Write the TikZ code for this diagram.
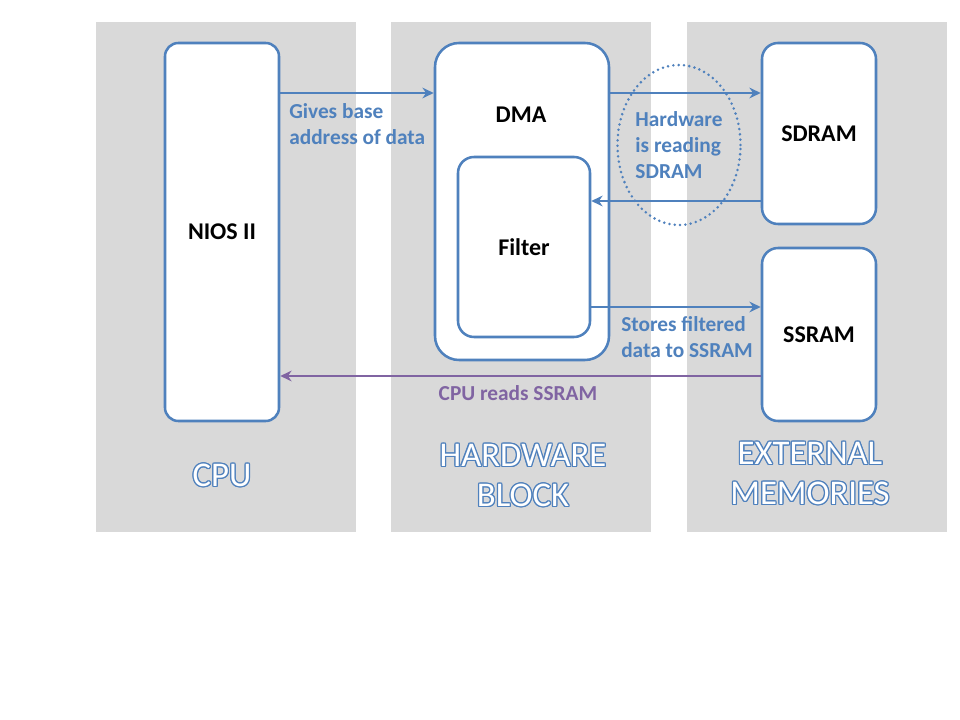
\documentclass[tikz,border=0pt]{standalone}
\usepackage{fontspec}
\setmainfont{Carlito}
\usepackage{contour}
\usetikzlibrary{shapes.geometric,arrows.meta}
\definecolor{lblue}{HTML}{4F81BD}
\definecolor{lpurple}{HTML}{8064A2}
\definecolor{panelgray}{HTML}{D9D9D9}
\contourlength{0.9pt}
\contournumber{12}
\begin{document}
\begin{tikzpicture}[x=0.75pt, y=-0.75pt, line join=round, >={Stealth[length=8.5pt,width=8pt]},
	panel/.style={fill=panelgray, minimum width=195pt, minimum height=382.5pt, inner sep=0pt},
	blk/.style={draw=lblue, line width=1.9pt, fill=white, rounded corners=10pt, inner sep=0pt, font=\fontsize{18}{22}\selectfont\bfseries},
	lbl/.style={text=lblue, inner sep=0pt, font=\fontsize{16}{19.5}\selectfont\bfseries, align=left},
	ttl/.style={text=white, font=\fontsize{26}{30}\selectfont, align=center},
	arr/.style={->, draw=lblue, line width=2.1pt}]
	\useasboundingbox[fill=white] (0,0) rectangle (960,720);
	% Nền ba khối
	\node[panel] (cpupanel) at (226,277) {};
	\node[panel] (hwpanel) at (520.5,277) {};
	\node[panel] (mempanel) at (816.5,277) {};
	% Các khối chính
	\node[blk, minimum width=85.5pt, minimum height=283.5pt] (nios) at (222,232) {NIOS II};
	\node[blk, rounded corners=18pt, minimum width=130.5pt, minimum height=237.75pt] (dma) at (522,201.5) {};
	\node[blk, draw=none, fill=none] (dmatxt) at (521,115) {DMA};
	\node[blk, rounded corners=12pt, minimum width=99pt, minimum height=135pt] (filter) at (524,247) {Filter};
	\node[blk, rounded corners=12pt, minimum width=85.5pt, minimum height=135.75pt] (sdram) at (819,133.5) {SDRAM};
	\node[blk, rounded corners=12pt, minimum width=85.5pt, minimum height=129.75pt] (ssram) at (819,334.5) {SSRAM};
	% Các mũi tên
	\draw[arr] (nios.east |- 0,93) -- (dma.west |- 0,93);
	\draw[arr] (dma.east |- 0,93) -- (sdram.west |- 0,93);
	\draw[arr] (sdram.west |- 0,201) -- (filter.east |- 0,201);
	\draw[arr] (filter.east |- 0,307) -- (ssram.west |- 0,307);
	\draw[arr, draw=lpurple] (ssram.west |- 0,376) -- (nios.east |- 0,376);
	% Chú thích
	\node[lbl, ellipse, draw=lblue, line width=2.1pt, dash pattern=on 0pt off 4pt, line cap=round, minimum width=85.5pt, minimum height=120pt] (reading) at (679,145) {Hardware\\is reading\\SDRAM};
	\node[lbl, anchor=west] (givestxt) at (289,124) {Gives base\\address of data};
	\node[lbl, anchor=west] (storestxt) at (621,337.5) {Stores filtered\\data to SSRAM};
	\node[lbl, text=lpurple] (readstxt) at (518,393) {CPU reads SSRAM};
	% Tiêu đề
	\node[ttl] (cputtl) at (222,476) {\contour{lblue}{CPU}};
	\node[ttl] (hwttl) at (523,476) {\contour{lblue}{HARDWARE}\\\contour{lblue}{BLOCK}};
	\node[ttl] (memttl) at (810,474) {\contour{lblue}{EXTERNAL}\\\contour{lblue}{MEMORIES}};
\end{tikzpicture}
\end{document}
